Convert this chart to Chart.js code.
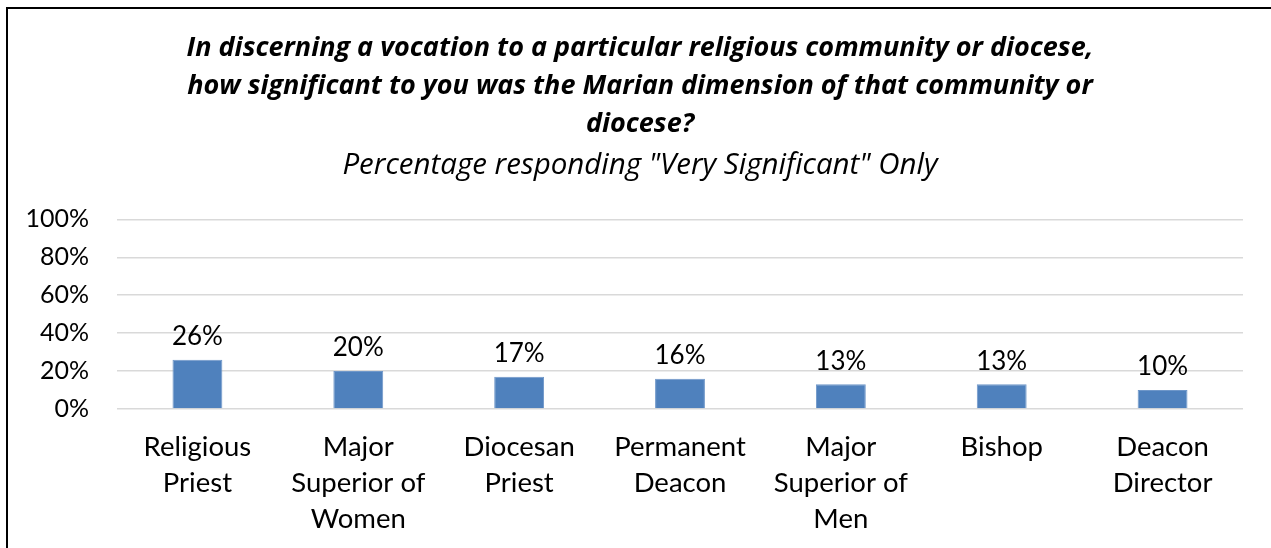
<!DOCTYPE html>
<html>
<head>
<meta charset="utf-8">
<script src="https://cdn.jsdelivr.net/npm/chart.js@4"></script>
<style>
  html, body { margin: 0; padding: 0; background: #fff; overflow: hidden; }
  #frame {
    position: absolute; left: 6px; top: 7px; width: 1300px; height: 600px;
    border-left: 2px solid #000; border-top: 2px solid #000;
  }
  #wrap { position: absolute; left: 0; top: 0; width: 1280px; height: 548px; }
</style>
</head>
<body>
<div id="frame"></div>
<div id="wrap"><canvas id="chart"></canvas></div>
<script>
// chart data
const categories = [
  ['Religious', 'Priest'],
  ['Major', 'Superior of', 'Women'],
  ['Diocesan', 'Priest'],
  ['Permanent', 'Deacon'],
  ['Major', 'Superior of', 'Men'],
  ['Bishop'],
  ['Deacon', 'Director']
];
const verySignificant = [26, 20, 17, 16, 13, 13, 10];
const yTicks = [0, 20, 40, 60, 80, 100];

const titleLines = [
  'In discerning a vocation to a particular religious community or diocese,',
  'how significant to you was the Marian dimension of that community or',
  'diocese?'
];
const subtitleText = 'Percentage responding "Very Significant" Only';

const AXIS_FONT = 'Lato, "Open Sans", sans-serif';
const TITLE_FONT = '"Open Sans", sans-serif';

// draw value labels above each bar
const barLabels = {
  id: 'barLabels',
  afterDatasetsDraw(chart) {
    const ctx = chart.ctx;
    const meta = chart.getDatasetMeta(0);
    ctx.save();
    ctx.font = '26px ' + AXIS_FONT;
    ctx.fillStyle = '#000';
    ctx.textAlign = 'center';
    ctx.textBaseline = 'middle';
    meta.data.forEach((bar, i) => {
      ctx.fillText(verySignificant[i] + '%', bar.x, bar.y - 23);
    });
    ctx.restore();
  }
};

new Chart(document.getElementById('chart'), {
  type: 'bar',
  data: {
    labels: categories,
    datasets: [{
      data: verySignificant,
      backgroundColor: '#4F81BD',
      borderColor: '#6F97C9',
      borderWidth: 1,
      barPercentage: 0.31,
      categoryPercentage: 1
    }]
  },
  options: {
    responsive: true,
    maintainAspectRatio: false,
    animation: false,
    layout: { padding: { left: 0, right: 0, top: 29, bottom: 11 } },
    plugins: {
      legend: { display: false },
      tooltip: { enabled: false },
      title: {
        display: true,
        text: titleLines,
        color: '#000',
        font: { family: TITLE_FONT, size: 27, weight: 'bold', style: 'italic', lineHeight: 1.407 },
        padding: { top: 0, bottom: 5 }
      },
      subtitle: {
        display: true,
        text: subtitleText,
        color: '#000',
        font: { family: TITLE_FONT, size: 29.5, style: 'italic', lineHeight: 1.2 },
        padding: { top: 0, bottom: 36 }
      }
    },
    scales: {
      y: {
        min: 0,
        max: 100,
        afterBuildTicks(axis) { axis.ticks = yTicks.map(v => ({ value: v })); },
        afterFit(axis) { axis.width = 117; },
        grid: { color: '#D9D9D9', lineWidth: 1.5, drawTicks: false },
        border: { display: false },
        ticks: {
          color: '#000',
          font: { family: AXIS_FONT, size: 25 },
          padding: 28,
          callback: v => v + '%'
        }
      },
      // empty right-hand spacer so the title stays centred on the frame
      yRight: {
        position: 'right',
        afterFit(axis) { axis.width = 37; },
        grid: { display: false },
        border: { display: false },
        ticks: { display: false }
      },
      x: {
        afterFit(axis) { axis.height = 128; },
        grid: { display: false },
        border: { display: false },
        ticks: {
          color: '#000',
          font: { family: AXIS_FONT, size: 27.5, lineHeight: 1.31 },
          padding: 12,
          maxRotation: 0,
          autoSkip: false
        }
      }
    }
  },
  plugins: [barLabels]
});
</script>
</body>
</html>
